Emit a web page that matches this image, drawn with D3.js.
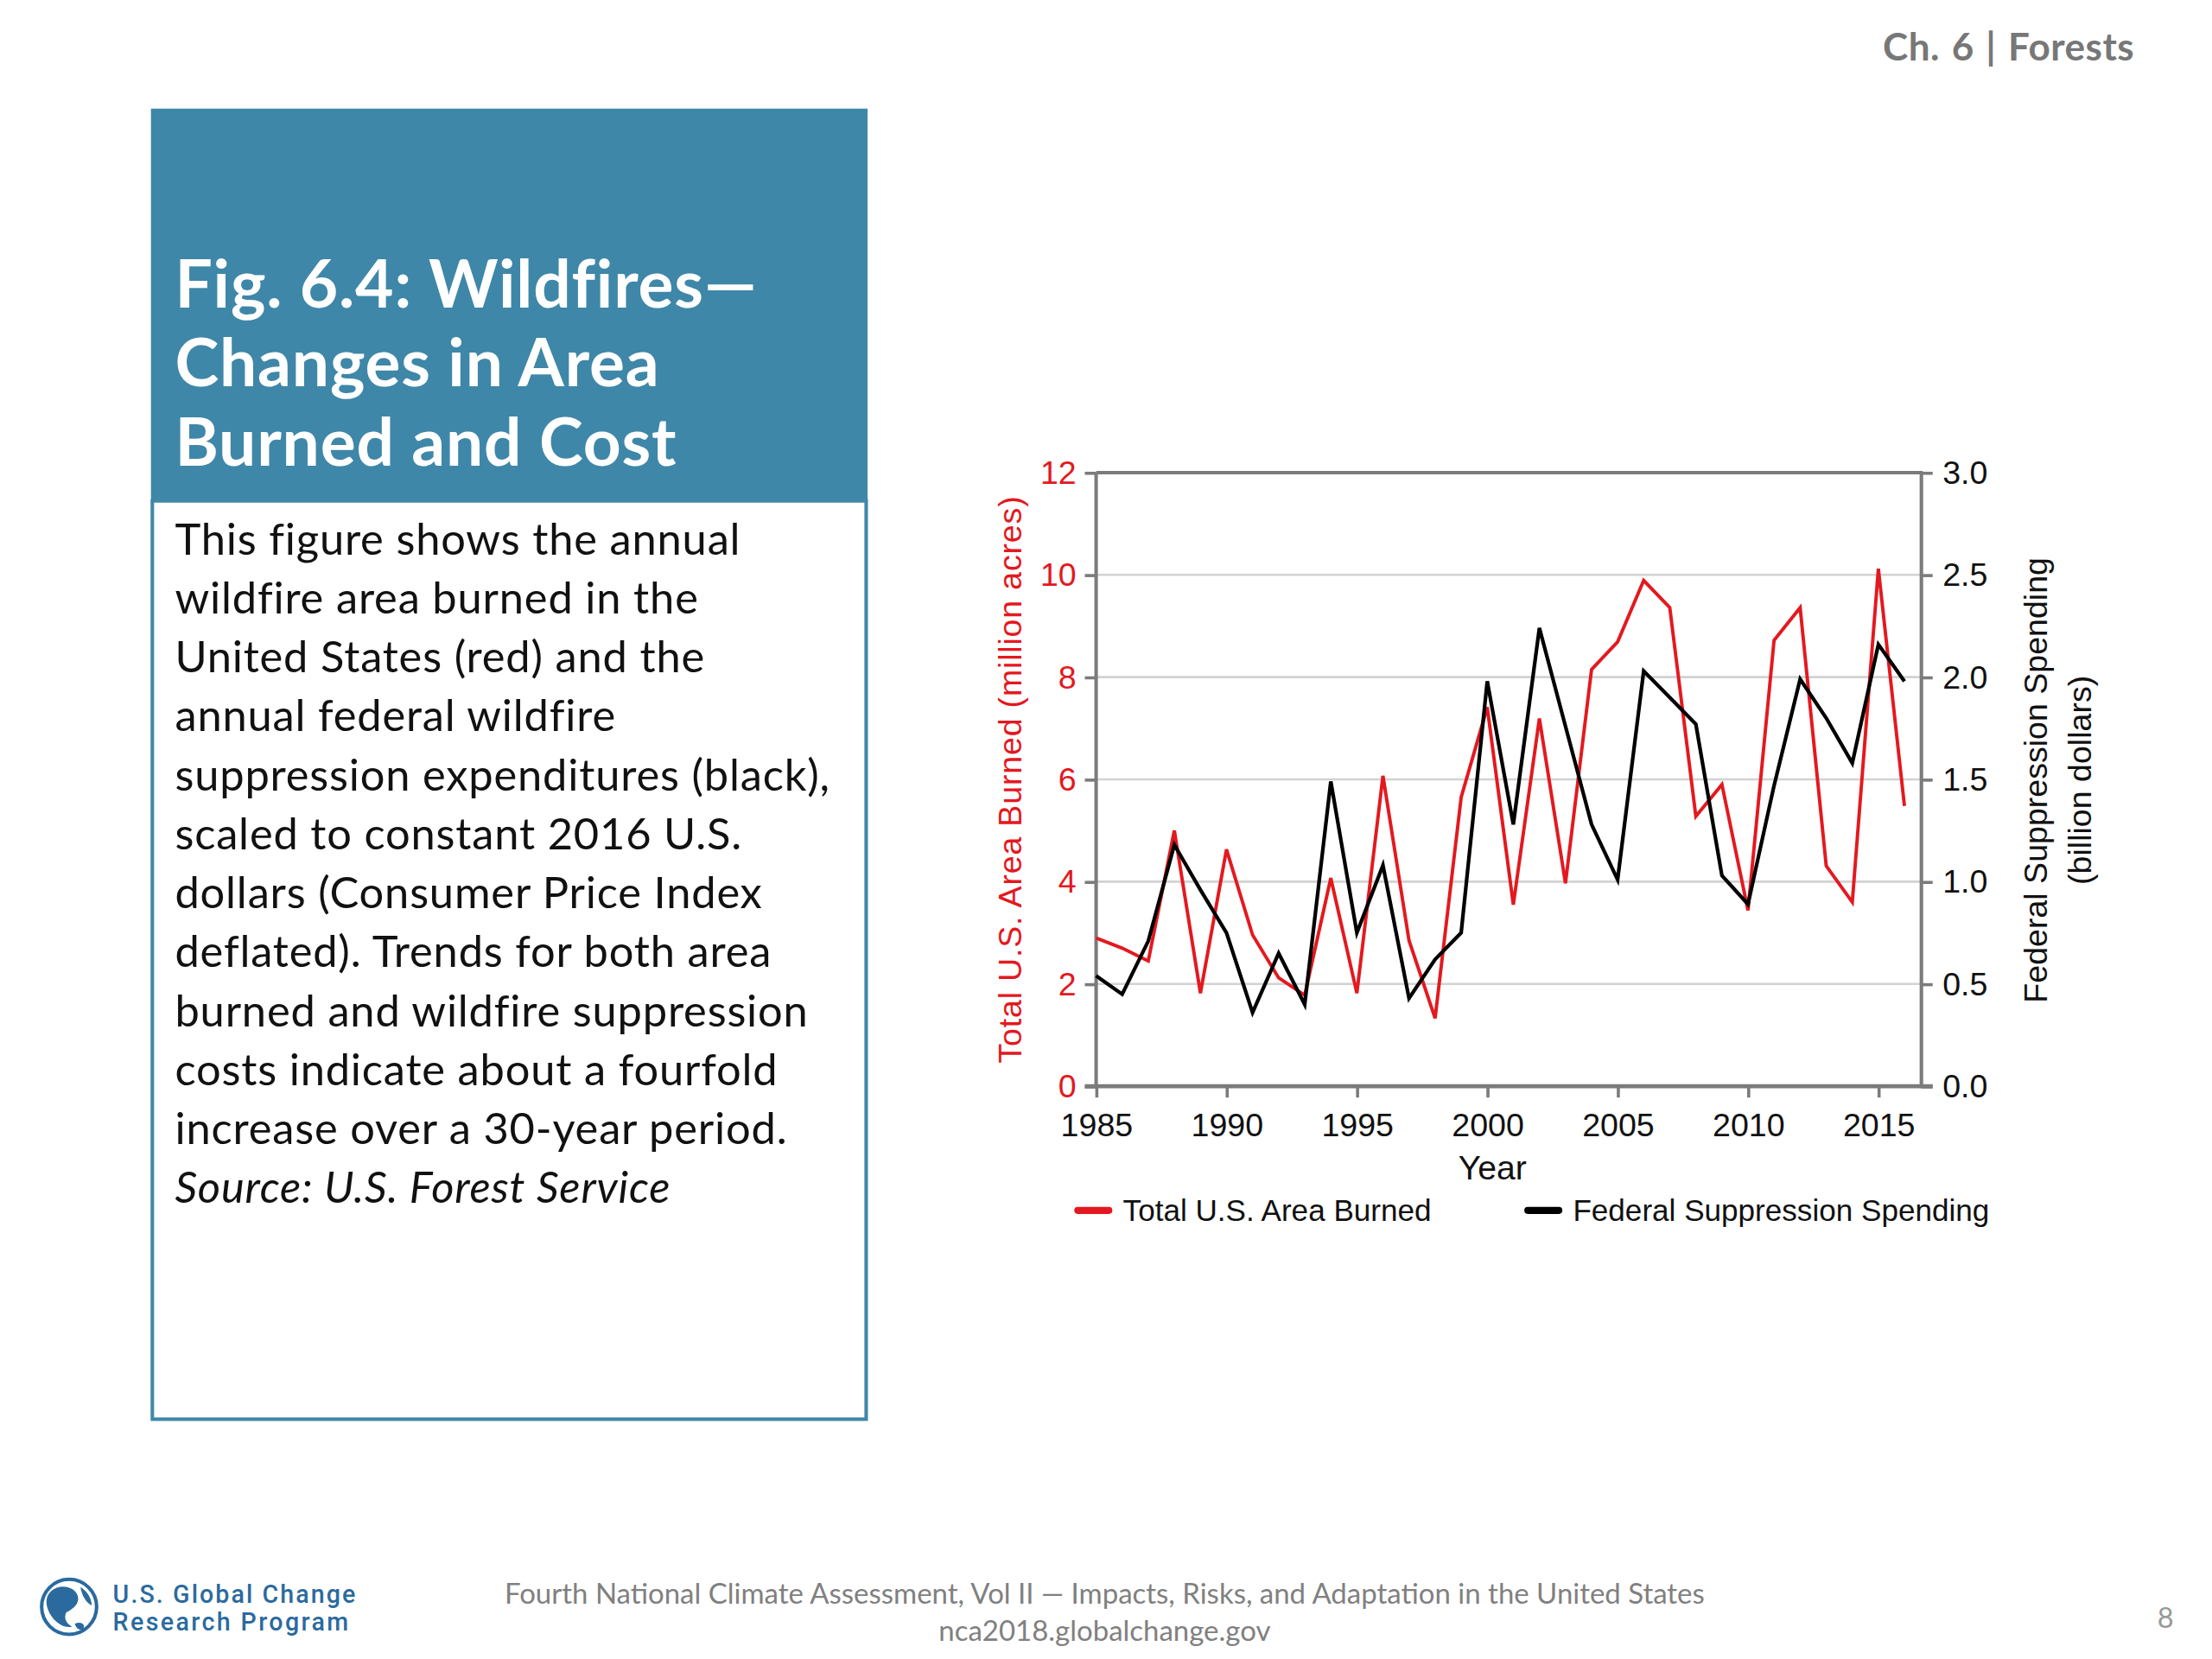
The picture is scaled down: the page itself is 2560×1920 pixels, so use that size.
<!DOCTYPE html>
<html>
<head>
<meta charset="utf-8">
<script src="https://cdn.jsdelivr.net/npm/d3@7"></script>
<style>
  body { margin: 0; background: #fff; }
  svg { display: block; }
</style>
</head>
<body>
<svg id="slide"></svg>
<script>
// data
var years = [1985, 1986, 1987, 1988, 1989, 1990, 1991, 1992, 1993, 1994, 1995,
             1996, 1997, 1998, 1999, 2000, 2001, 2002, 2003, 2004, 2005, 2006,
             2007, 2008, 2009, 2010, 2011, 2012, 2013, 2014, 2015, 2016];
// million acres
var areaBurned = [2.90, 2.70, 2.45, 5.00, 1.82, 4.63, 2.96, 2.12, 1.78, 4.07, 1.82,
                  6.07, 2.85, 1.33, 5.65, 7.41, 3.55, 7.19, 3.97, 8.15, 8.69, 9.89,
                  9.36, 5.28, 5.90, 3.44, 8.72, 9.36, 4.31, 3.60, 10.12, 5.48];
// billion dollars
var spending = [0.54, 0.45, 0.71, 1.18, 0.96, 0.75, 0.36, 0.65, 0.40, 1.49, 0.75,
                1.08, 0.43, 0.62, 0.75, 1.98, 1.28, 2.24, 1.76, 1.28, 1.01, 2.03,
                1.90, 1.77, 1.03, 0.89, 1.47, 1.99, 1.80, 1.58, 2.16, 1.98];
var xTicks = [1985, 1990, 1995, 2000, 2005, 2010, 2015];
var leftTicks = [0, 2, 4, 6, 8, 10, 12];
var rightTicks = [0, 0.5, 1.0, 1.5, 2.0, 2.5, 3.0];
var legendLabels = ["Total U.S. Area Burned", "Federal Suppression Spending"];

var titleLines = ["Fig. 6.4: Wildfires\u2014", "Changes in Area", "Burned and Cost"];
var bodyLines = ["This figure shows the annual", "wildfire area burned in the",
                 "United States (red) and the", "annual federal wildfire",
                 "suppression expenditures (black),", "scaled to constant 2016 U.S.",
                 "dollars (Consumer Price Index", "deflated). Trends for both area",
                 "burned and wildfire suppression", "costs indicate about a fourfold",
                 "increase over a 30-year period."];

var RED = "#e3191f", BLUE = "#3e87a8", AXIS = "#7b7b7b", GRID = "#d2d2d2";
var slideFont = "Lato, 'Open Sans', sans-serif";
var chartFont = "'Liberation Sans', Arial, sans-serif";

var svg = d3.select("#slide")
    .attr("width", 2560).attr("height", 1920)
    .attr("viewBox", "0 0 1568 1176");

// header
svg.append("text")
    .attr("x", 1513).attr("y", 43)
    .attr("text-anchor", "end")
    .attr("font-family", slideFont).attr("font-weight", 700)
    .attr("font-size", 27).attr("fill", "#777")
    .attr("letter-spacing", 0.3).attr("word-spacing", 1.5)
    .text("Ch. 6 | Forests");

// caption box
svg.append("rect")
    .attr("x", 108).attr("y", 355).attr("width", 506).attr("height", 651)
    .attr("fill", "#fff").attr("stroke", BLUE).attr("stroke-width", 2.5);
svg.append("rect")
    .attr("x", 107).attr("y", 77).attr("width", 508).attr("height", 279)
    .attr("fill", BLUE);

svg.append("g").selectAll("text")
    .data(titleLines)
    .enter().append("text")
    .attr("x", 124)
    .attr("y", (d, i) => 218 + i * 56)
    .attr("font-family", slideFont).attr("font-weight", 700)
    .attr("font-size", 47).attr("letter-spacing", 0.5).attr("fill", "#fff")
    .text(d => d);

var body = svg.append("g")
    .attr("font-family", slideFont).attr("font-size", 31)
    .attr("letter-spacing", 0.5).attr("fill", "#111");
body.selectAll("text")
    .data(bodyLines)
    .enter().append("text")
    .attr("x", 124)
    .attr("y", (d, i) => 393 + i * 41.8)
    .text(d => d);
body.append("text")
    .attr("x", 124).attr("y", 393 + 11 * 41.8)
    .attr("font-style", "italic")
    .text("Source: U.S. Forest Service");

// chart
var plot = { left: 777, right: 1362, top: 335, bottom: 770 };

var x = d3.scaleLinear().domain([1985, 2016.65]).range([plot.left, plot.right]);
var yL = d3.scaleLinear().domain([0, 12]).range([plot.bottom, plot.top]);
var yR = d3.scaleLinear().domain([0, 3]).range([plot.bottom, plot.top]);

var chart = svg.append("g").attr("font-family", chartFont);

// gridlines
chart.append("g").selectAll("line")
    .data(leftTicks.filter(d => d > 0 && d < 12))
    .enter().append("line")
    .attr("x1", plot.left).attr("x2", plot.right)
    .attr("y1", d => yL(d)).attr("y2", d => yL(d))
    .attr("stroke", GRID).attr("stroke-width", 1.6);

// top frame line
chart.append("line")
    .attr("x1", plot.left).attr("x2", plot.right + 1)
    .attr("y1", plot.top).attr("y2", plot.top)
    .attr("stroke", AXIS).attr("stroke-width", 2.5);

function styleAxis(g, color) {
    g.select(".domain").remove();
    g.selectAll(".tick line").attr("stroke", AXIS).attr("stroke-width", 2.2);
    g.selectAll(".tick text").attr("fill", color).attr("font-size", 23);
}

var gx = chart.append("g")
    .attr("transform", "translate(0," + plot.bottom + ")")
    .call(d3.axisBottom(x).tickValues(xTicks).tickFormat(d3.format("d"))
        .tickSize(8).tickPadding(11));
styleAxis(gx, "#111");

var gl = chart.append("g")
    .attr("transform", "translate(" + plot.left + ",0)")
    .call(d3.axisLeft(yL).tickValues(leftTicks).tickSize(8).tickPadding(6));
styleAxis(gl, RED);

var gr = chart.append("g")
    .attr("transform", "translate(" + plot.right + ",0)")
    .call(d3.axisRight(yR).tickValues(rightTicks).tickFormat(d3.format(".1f"))
        .tickSize(8).tickPadding(7));
styleAxis(gr, "#111");

// axis lines
chart.append("line")
    .attr("x1", plot.left).attr("x2", plot.left)
    .attr("y1", plot.top).attr("y2", plot.bottom)
    .attr("stroke", AXIS).attr("stroke-width", 2.5);
chart.append("line")
    .attr("x1", plot.right).attr("x2", plot.right)
    .attr("y1", plot.top).attr("y2", plot.bottom)
    .attr("stroke", AXIS).attr("stroke-width", 2.5);
chart.append("line")
    .attr("x1", plot.left - 8).attr("x2", plot.right + 8)
    .attr("y1", plot.bottom).attr("y2", plot.bottom)
    .attr("stroke", AXIS).attr("stroke-width", 3);

// series
var lineArea = d3.line().x((d, i) => x(years[i])).y(d => yL(d));
var lineSpend = d3.line().x((d, i) => x(years[i])).y(d => yR(d));

chart.append("path")
    .datum(areaBurned)
    .attr("d", lineArea)
    .attr("fill", "none").attr("stroke", RED).attr("stroke-width", 2.4);
chart.append("path")
    .datum(spending)
    .attr("d", lineSpend)
    .attr("fill", "none").attr("stroke", "#000").attr("stroke-width", 2.6);

// axis titles
chart.append("text")
    .attr("transform", "translate(724," + (plot.top + plot.bottom) / 2 + ") rotate(-90)")
    .attr("text-anchor", "middle")
    .attr("font-size", 23).attr("letter-spacing", 0.5).attr("fill", RED)
    .text("Total U.S. Area Burned (million acres)");

chart.append("text")
    .attr("transform", "translate(1451,553) rotate(-90)")
    .attr("text-anchor", "middle")
    .attr("font-size", 23).attr("fill", "#111")
    .text("Federal Suppression Spending");
chart.append("text")
    .attr("transform", "translate(1482,553) rotate(-90)")
    .attr("text-anchor", "middle")
    .attr("font-size", 23).attr("fill", "#111")
    .text("(billion dollars)");

chart.append("text")
    .attr("x", 1058).attr("y", 836)
    .attr("text-anchor", "middle")
    .attr("font-size", 24).attr("fill", "#111")
    .text("Year");

// legend
var legend = chart.append("g").selectAll("g")
    .data(legendLabels)
    .enter().append("g")
    .attr("transform", (d, i) => "translate(" + [764, 1083][i] + ",858)");
legend.append("line")
    .attr("x1", 0).attr("x2", 22)
    .attr("stroke", (d, i) => i === 0 ? RED : "#000")
    .attr("stroke-width", 5).attr("stroke-linecap", "round");
legend.append("text")
    .attr("x", 32).attr("y", 7.5)
    .attr("font-size", 21.5).attr("fill", "#111")
    .text(d => d);

// footer
var LOGO = "#2b6a9e";
var logo = svg.append("g").attr("transform", "translate(49,1139)");
logo.append("circle").attr("r", 19.5).attr("fill", "#fff")
    .attr("stroke", LOGO).attr("stroke-width", 2.5);
logo.append("path")
    .attr("d", "M-13,-11 C-6,-17 4,-14 6,-8 C8,-2 2,2 -2,4 C-4,8 -2,12 2,14 C-4,16 -12,10 -15,2 C-17,-4 -16,-8 -13,-11 Z M8,-14 C13,-11 16,-6 16,-1 C12,-3 9,-8 8,-14 Z M4,12 C8,10 12,12 10,16 C7,17 5,15 4,12 Z")
    .attr("fill", LOGO);

svg.append("g")
    .attr("font-family", "Roboto, sans-serif").attr("font-size", 17.5)
    .attr("font-weight", 500).attr("fill", LOGO)
    .selectAll("text")
    .data(["U.S. Global Change", "Research Program"])
    .enter().append("text")
    .attr("x", 80).attr("y", (d, i) => 1136 + i * 20)
    .attr("textLength", (d, i) => [172, 167][i])
    .text(d => d);

svg.append("g")
    .attr("font-family", slideFont).attr("font-size", 20.2)
    .attr("fill", "#808080").attr("text-anchor", "middle")
    .selectAll("text")
    .data(["Fourth National Climate Assessment, Vol II \u2014 Impacts, Risks, and Adaptation in the United States",
           "nca2018.globalchange.gov"])
    .enter().append("text")
    .attr("x", 783).attr("y", (d, i) => 1137 + i * 26)
    .text(d => d);

svg.append("text")
    .attr("x", 1535).attr("y", 1154)
    .attr("text-anchor", "middle")
    .attr("font-family", slideFont).attr("font-size", 20).attr("fill", "#999")
    .text("8");
</script>
</body>
</html>
